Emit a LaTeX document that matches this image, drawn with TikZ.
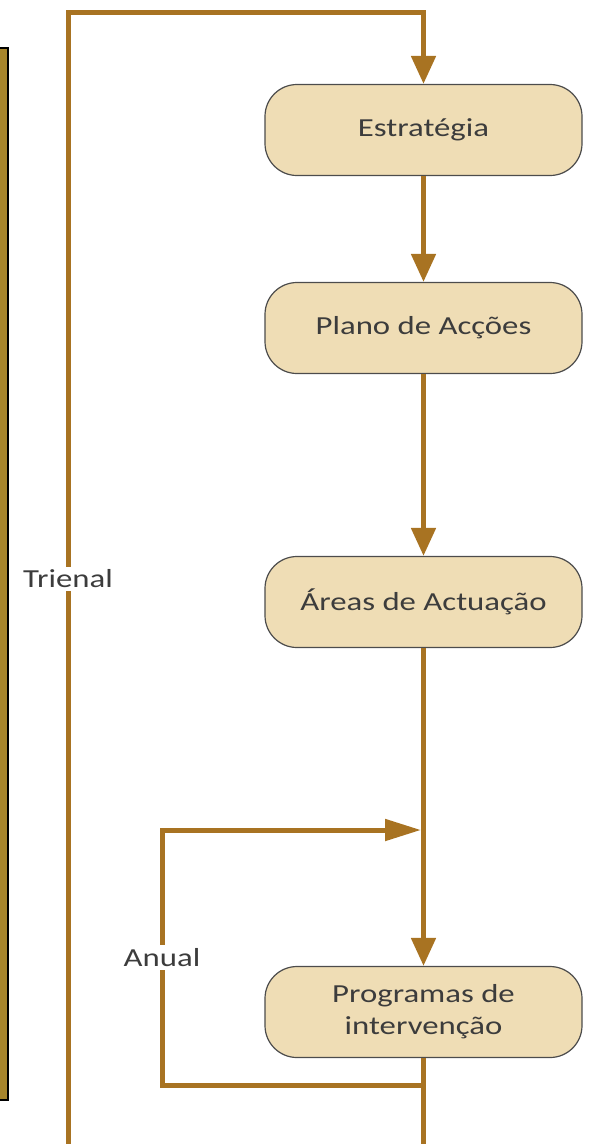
\documentclass[tikz,border=0pt]{standalone}
\usepackage{fontspec}
\setmainfont{Carlito}[FakeStretch=1.26]
\usepackage{tikz}
\usetikzlibrary{arrows.meta,positioning}
\definecolor{fio}{HTML}{A87322}
\definecolor{caixa}{HTML}{EFDDB5}
\definecolor{barra}{HTML}{A8862C}
\definecolor{texto}{HTML}{3C3C3C}

\begin{document}
\begin{tikzpicture}[x=1pt,y=-1pt,
   etapa/.style={draw=black!70, line width=1.2pt, fill=caixa, rounded corners=32pt,
      minimum width=317pt, minimum height=91pt, align=center, text=texto,
      font=\fontsize{26}{32}\selectfont},
   fluxo/.style={draw=fio, line width=5pt, -{Triangle[length=28pt,width=24pt]}},
   rotulo/.style={fill=white, text=texto, inner sep=3pt, font=\fontsize{26}{32}\selectfont}]
   \useasboundingbox (0,0) rectangle (590,1144);
   \fill[barra] (-5,48) rectangle (8,1100);
   \draw[black, line width=1.5pt] (-5,48) -- (8,48) -- (8,1100) -- (-5,1100);

   \node[etapa] (estrategia) at (423.5,130)  {Estratégia};
   \node[etapa] (plano)      at (423.5,328)  {Plano de Acções};
   \node[etapa] (areas)      at (423.5,602)  {Áreas de Actuação};
   \node[etapa] (programas)  at (423.5,1012) {Programas de\\intervenção};

   \coordinate (tbase)  at (423.5,1146);
   \coordinate (tcanto) at (68,1146);
   \coordinate (ttopo)  at (68,12);
   \coordinate (tfim)   at (423.5,12);
   \coordinate (abase)  at (423.5,1085);
   \coordinate (acanto) at (162,1085);
   \coordinate (atopo)  at (162,830);
   \coordinate (ajunta) at (421,830);

   \draw[fluxo] (estrategia) -- (plano);
   \draw[fluxo] (plano) -- (areas);
   \draw[fluxo] (areas) -- (programas);
   \draw[fluxo] (programas.south) -- (tbase) -- (tcanto)
      -- node[rotulo] {Trienal} (ttopo) -- (tfim) -- (estrategia.north);
   \draw[fluxo, -{Triangle[length=36pt,width=21pt]}] (abase) -- (acanto)
      -- node[rotulo] {Anual} (atopo) -- (ajunta);
\end{tikzpicture}
\end{document}
